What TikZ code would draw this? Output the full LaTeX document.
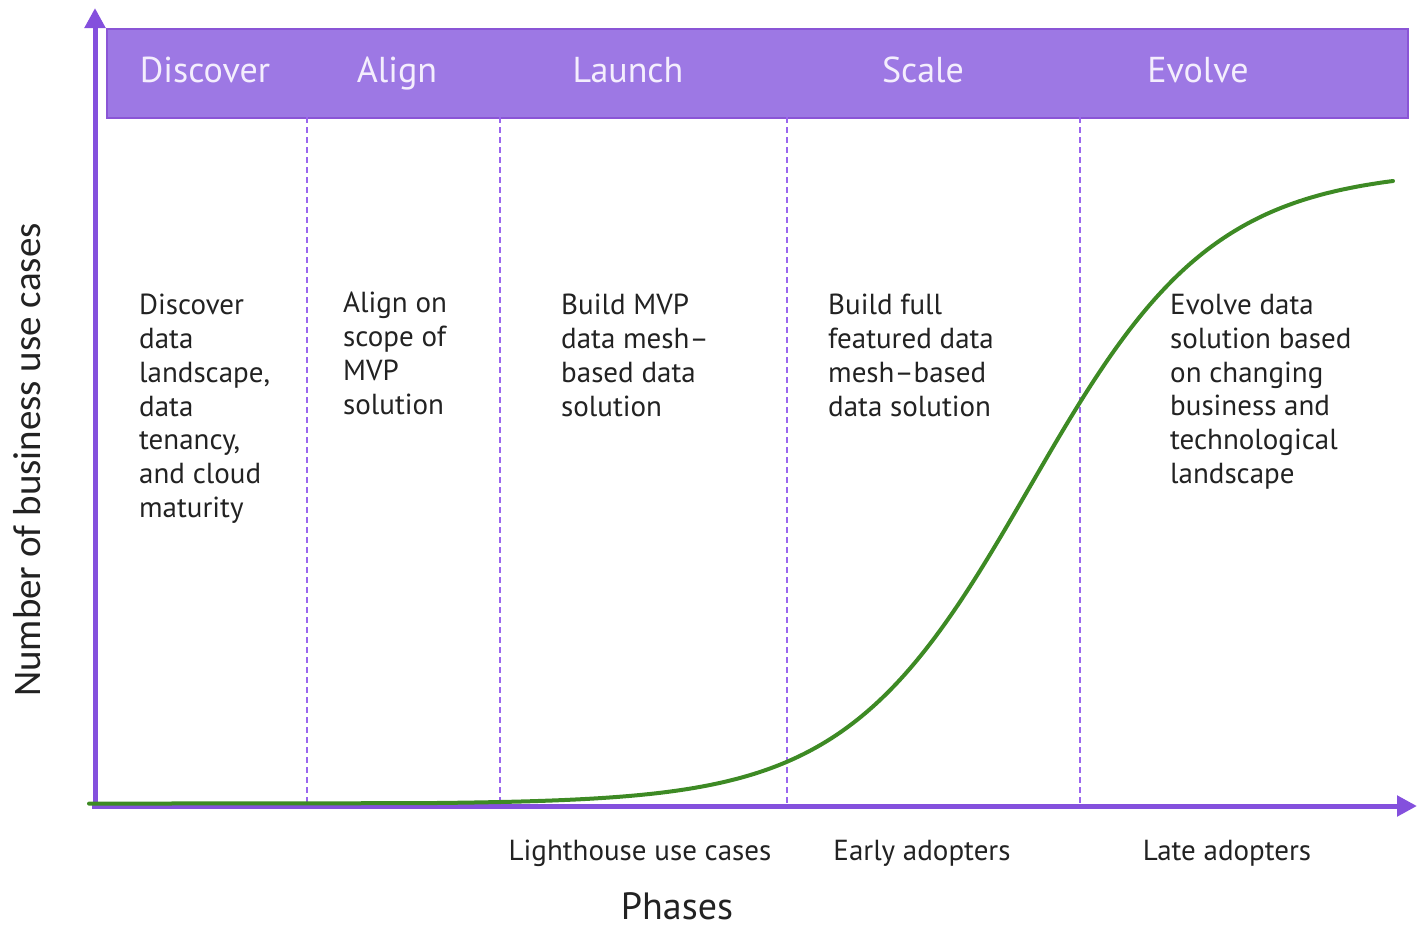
\documentclass[tikz,border=0pt]{standalone}
\usepackage{fontspec}
\setmainfont{PT Sans}
\newfontfamily\ylabfont{Carlito}
\usetikzlibrary{arrows.meta}
\definecolor{hdrfill}{HTML}{9D78E4}
\definecolor{hdrdraw}{HTML}{8A55D6}
\definecolor{axiscol}{HTML}{8450DD}
\definecolor{dashcol}{HTML}{9A66EE}
\definecolor{curvecol}{HTML}{3D8A24}
\definecolor{txtcol}{HTML}{222222}
\definecolor{hdrtxt}{HTML}{F4EEFD}
\tikzset{
  hdrlabel/.style={text=hdrtxt, font=\fontsize{36}{42}\selectfont, inner sep=0pt, anchor=base},
  desc/.style={text=txtcol, font=\fontsize{29}{33.8}\selectfont, align=left, anchor=north west, inner sep=0pt},
  botlabel/.style={text=txtcol, font=\fontsize{29}{34}\selectfont, inner sep=0pt, anchor=base},
  phaseline/.style={dashcol, dash pattern=on 6pt off 4pt, line width=1.3pt},
  axisline/.style={axiscol, line width=5pt, -{Triangle[length=20pt,width=20pt]}}
}
\begin{document}
\begin{tikzpicture}[x=1pt,y=-1pt]
\useasboundingbox (0,0) rectangle (1425,929);
% header band
\node[draw=hdrdraw, fill=hdrfill, line width=1.5pt, minimum width=1301pt, minimum height=89pt, anchor=north west, inner sep=0pt] (band) at (106,28) {};
\node[hdrlabel] (hDiscover) at (205,82) {Discover};
\node[hdrlabel] (hAlign) at (397,82) {Align};
\node[hdrlabel] (hLaunch) at (628,82) {Launch};
\node[hdrlabel] (hScale) at (923,82) {Scale};
\node[hdrlabel] (hEvolve) at (1198,82) {Evolve};
% phase separators
\foreach \xx/\nm in {307/a,500/b,787/c,1080/d}{
  \coordinate (top\nm) at (\xx,117);
  \coordinate (bot\nm) at (\xx,806);
  \draw[phaseline] (top\nm) -- (bot\nm);
}
% descriptions
\node[desc] (dDiscover) at (139,294) {Discover\\data\\landscape,\\data\\tenancy,\\and cloud\\maturity};
\node[desc] (dAlign) at (343,292) {Align on\\scope of\\MVP\\solution};
\node[desc] (dLaunch) at (561,294) {Build MVP\\data mesh--\\based data\\solution};
\node[desc] (dScale) at (828,294) {Build full\\featured data\\mesh--based\\data solution};
\node[desc] (dEvolve) at (1170,294) {Evolve data\\solution based\\on changing\\business and\\technological\\landscape};
% axes
\coordinate (origin) at (95,806);
\coordinate (ytip) at (95,8);
\coordinate (xstart) at (92,806);
\coordinate (xtip) at (1417,806);
\draw[axisline] (origin) -- (ytip);
\draw[axisline] (xstart) -- (xtip);
% growth curve (logistic)
\coordinate (cstart) at (89,803.6);
\draw[curvecol, line width=4pt, line cap=round] (cstart) -- plot[domain=420:1393, samples=160, smooth] (\x, {804-635/(1+exp(-(\x-1030)/92))});
% axis labels
\node[botlabel] (lLight) at (640,860) {Lighthouse use cases};
\node[botlabel] (lEarly) at (922,860) {Early adopters};
\node[botlabel] (lLate) at (1227,860) {Late adopters};
\node[text=txtcol, font=\fontsize{38}{44}\selectfont, inner sep=0pt, anchor=base] (lPhases) at (677,919) {Phases};
\node[text=txtcol, font=\ylabfont\fontsize{39}{44}\selectfont, rotate=90, inner sep=0pt] (lY) at (27,460) {Number of business use cases};
\end{tikzpicture}
\end{document}
